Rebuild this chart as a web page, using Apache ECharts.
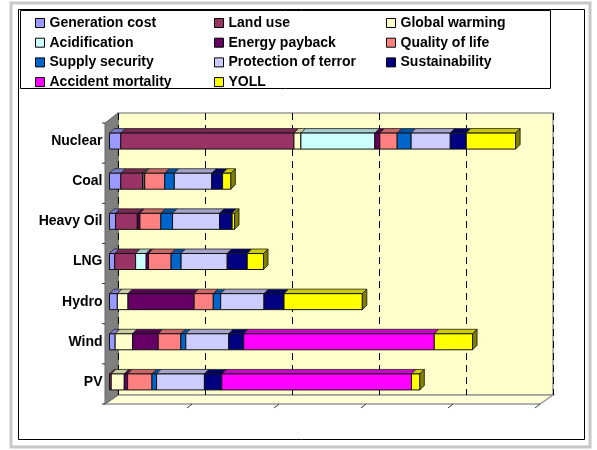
<!DOCTYPE html>
<html>
<head>
<meta charset="utf-8">
<script src="https://cdn.jsdelivr.net/npm/echarts@6/dist/echarts.min.js"></script>
<style>
  html, body { margin: 0; padding: 0; background: #fff; }
  #chart { width: 597px; height: 450px; }
</style>
</head>
<body>
<div id="chart"></div>
<script>
// categories (top to bottom)
var plants = ['Nuclear', 'Coal', 'Heavy Oil', 'LNG', 'Hydro', 'Wind', 'PV'];

// stacked values per criterion
var genCost            = [1.3, 1.3, 0.7, 0.6, 0.9, 0.65, 0];
var landUse            = [19.9, 2.5, 2.5, 2.4, 0, 0, 0.2];
var globalWarming      = [0.8, 0.05, 0, 0, 1.23, 2.0, 1.5];
var acidification      = [8.5, 0.15, 0.05, 1.22, 0, 0, 0];
var energyPayback      = [0.57, 0.05, 0.25, 0.26, 7.6, 2.95, 0.38];
var qualityOfLife      = [2.0, 2.3, 2.4, 2.6, 2.2, 2.6, 2.8];
var supplySecurity     = [1.6, 1.1, 1.35, 1.15, 0.85, 0.57, 0.53];
var protectionOfTerror = [4.5, 4.3, 5.4, 5.3, 4.98, 4.94, 5.5];
var sustainability     = [1.84, 1.25, 1.45, 2.3, 2.3, 1.72, 2.0];
var accidentMortality  = [0, 0, 0, 0, 0, 21.9, 21.8];
var yoll               = [5.67, 0.95, 0.27, 1.87, 9.0, 4.4, 0.96];

var seriesNames = ['Generation cost', 'Land use', 'Global warming', 'Acidification',
  'Energy payback', 'Quality of life', 'Supply security', 'Protection of terror',
  'Sustainability', 'Accident mortality', 'YOLL'];
var seriesValues = [genCost, landUse, globalWarming, acidification, energyPayback,
  qualityOfLife, supplySecurity, protectionOfTerror, sustainability, accidentMortality, yoll];
var colors = ['#9999FF', '#993366', '#FFFFCC', '#CCFFFF', '#660066', '#FF8080',
  '#0066CC', '#CCCCFF', '#000080', '#FF00FF', '#FFFF00'];

var axisMax = 50, axisStep = 10;

function shade(hex, k) {
  var n = parseInt(hex.slice(1), 16);
  var r = Math.round(((n >> 16) & 255) * k), g = Math.round(((n >> 8) & 255) * k), b = Math.round((n & 255) * k);
  return 'rgb(' + r + ',' + g + ',' + b + ')';
}

// cumulative start/end for each segment, and which segment closes each row
var lastIdx = plants.map(function (p, c) {
  var li = 0;
  seriesValues.forEach(function (v, s) { if (v[c] > 0) li = s; });
  return li;
});
var running = plants.map(function () { return 0; });
var series = seriesValues.map(function (vals, s) {
  var data = vals.map(function (v, c) {
    var st = running[c];
    running[c] += v;
    return [st, st + v, c, lastIdx[c] === s ? 1 : 0];
  });
  return {
    name: seriesNames[s],
    type: 'custom',
    xAxisIndex: 0,
    yAxisIndex: 0,
    itemStyle: { color: colors[s] },
    encode: { x: [0, 1], y: 2 },
    renderItem: function (params, api) {
      var st = api.value(0), en = api.value(1), c = api.value(2), last = api.value(3);
      if (en - st <= 0) return;
      var p0 = api.coord([st, c]), p1 = api.coord([en, c]);
      var h = 16, dx = 4.5, dy = 4.5;
      var x0 = p0[0], x1 = p1[0], y0 = p0[1] - h / 2, y1 = y0 + h;
      var col = colors[params.seriesIndex];
      var children = [
        { type: 'polygon', shape: { points: [[x0, y0], [x1, y0], [x1 + dx, y0 - dy], [x0 + dx, y0 - dy]] },
          style: { fill: shade(col, 0.8), stroke: '#222', lineWidth: 0.8 } },
        { type: 'rect', shape: { x: x0, y: y0, width: x1 - x0, height: h },
          style: { fill: col, stroke: '#111', lineWidth: 1 } }
      ];
      if (last) {
        children.push({ type: 'polygon',
          shape: { points: [[x1, y0], [x1 + dx, y0 - dy], [x1 + dx, y1 - dy], [x1, y1]] },
          style: { fill: shade(col, 0.5), stroke: '#111', lineWidth: 0.8 } });
      }
      return { type: 'group', children: children };
    },
    data: data,
    z: 5
  };
});

// wall / floor / frame decoration
var backL = 118, backR = 553, backT = 113, backB = 395;
var frontL = 105, frontR = 540, frontB = 404, frontT = 123;
var deco = [
  { type: 'rect', shape: { x: 11, y: 3, width: 579, height: 444 }, style: { fill: 'none', stroke: '#c8c8c8', lineWidth: 3 }, z: -10 },
  { type: 'rect', shape: { x: 18.5, y: 9.5, width: 566, height: 430 }, style: { fill: 'none', stroke: '#000', lineWidth: 1 }, z: -10 },
  { type: 'rect', shape: { x: 20.5, y: 10.5, width: 530, height: 78 }, style: { fill: '#fff', stroke: '#000', lineWidth: 1 }, z: -10 },
  { type: 'polygon', shape: { points: [[frontL, frontB], [frontR, frontB], [backR, backB], [backL, backB]] },
    style: { fill: '#FFFFD8', stroke: '#999', lineWidth: 1.5 }, z: 1 },
  { type: 'polygon', shape: { points: [[frontL, frontT], [backL, backT], [backL, backB], [frontL, frontB]] },
    style: { fill: '#808080', stroke: '#666', lineWidth: 1 }, z: 1 }
];
for (var k = 1; k <= axisMax / axisStep; k++) {
  var fx = frontL + (frontR - frontL) * k * axisStep / axisMax;
  deco.push({ type: 'line', shape: { x1: fx - 5, y1: frontB + 4, x2: fx, y2: frontB }, style: { stroke: '#333', lineWidth: 1 }, z: 2 });
}
for (var j = 0; j <= plants.length; j++) {
  var ty = frontT + (frontB - frontT) * j / plants.length;
  deco.push({ type: 'line', shape: { x1: frontL - 3, y1: ty, x2: frontL, y2: ty }, style: { stroke: '#333', lineWidth: 1 }, z: 2 });
}

function legendCol(names, left) {
  return {
    data: names, left: left, top: 11, orient: 'vertical', icon: 'rect',
    itemWidth: 9, itemHeight: 9, itemGap: 5.7, selectedMode: false,
    itemStyle: { borderColor: '#000', borderWidth: 1 },
    textStyle: { fontFamily: 'Liberation Sans', fontWeight: 'bold', fontSize: 14, lineHeight: 14, color: '#000' }
  };
}

var chart = echarts.init(document.getElementById('chart'));
chart.setOption({
  animation: false,
  backgroundColor: '#fff',
  legend: [
    legendCol(['Generation cost', 'Acidification', 'Supply security', 'Accident mortality'], 30),
    legendCol(['Land use', 'Energy payback', 'Protection of terror', 'YOLL'], 209),
    legendCol(['Global warming', 'Quality of life', 'Sustainability'], 381)
  ],
  grid: [
    { left: 109.5, right: 52.5, top: 121, bottom: 48 },
    { left: backL, right: 597 - backR, top: backT, bottom: 450 - backB, show: true,
      backgroundColor: '#FFFFCC', borderColor: '#999', borderWidth: 1.5 }
  ],
  xAxis: [
    { type: 'value', gridIndex: 0, min: 0, max: axisMax, interval: axisStep, show: false },
    { type: 'value', gridIndex: 1, min: 0, max: axisMax, interval: axisStep, z: 3,
      axisLine: { show: false }, axisTick: { show: false }, axisLabel: { show: false },
      splitLine: { show: true, lineStyle: { color: '#000', type: [7, 5], width: 1 } } }
  ],
  yAxis: [
    { type: 'category', gridIndex: 0, data: plants, inverse: true,
      axisLine: { show: false }, axisTick: { show: false },
      axisLabel: { margin: 7, padding: [6, 0, 0, 0], fontFamily: 'Liberation Sans', fontWeight: 'bold', fontSize: 14, color: '#000' } },
    { type: 'category', gridIndex: 1, data: plants, show: false }
  ],
  graphic: deco,
  series: series
});
</script>
</body>
</html>
